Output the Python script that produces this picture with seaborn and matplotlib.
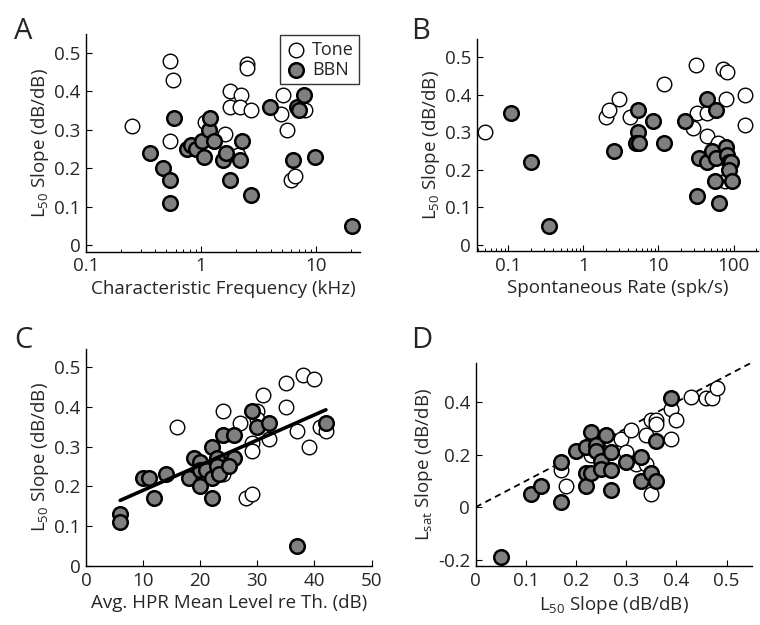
import matplotlib
matplotlib.use('Agg')
import matplotlib.pyplot as plt
import seaborn as sns
import numpy as np
from matplotlib.ticker import NullFormatter, LogLocator

# ---- data ----
# Panel A: characteristic frequency (kHz) vs L50 slope
a_tone_cf = [0.54, 0.575, 0.25, 0.54, 1.07, 1.61, 2.5, 2.5, 1.77, 2.23, 1.77, 2.16,
             2.69, 2.1, 5.13, 4.9, 5.6, 7.95, 6.0, 6.5]
a_tone_slope = [0.48, 0.43, 0.31, 0.27, 0.32, 0.29, 0.47, 0.46, 0.40, 0.39, 0.36, 0.36,
                0.35, 0.235, 0.39, 0.34, 0.30, 0.35, 0.17, 0.18]
a_bbn_cf = [0.58, 0.36, 0.47, 0.54, 0.54, 0.75, 0.82, 0.9, 1.01, 1.05, 1.17, 1.2, 1.3,
            1.54, 2.27, 1.63, 2.16, 1.78, 2.69, 3.94, 6.8, 7.07, 7.8, 6.3, 9.75, 20.5]
a_bbn_slope = [0.33, 0.24, 0.20, 0.17, 0.11, 0.25, 0.26, 0.25, 0.27, 0.23, 0.30, 0.33, 0.27,
               0.22, 0.27, 0.24, 0.22, 0.17, 0.13, 0.36, 0.36, 0.35, 0.39, 0.22, 0.23, 0.05]

# Panel B: spontaneous rate (spk/s) vs L50 slope
b_tone_sr = [0.05, 1.99, 2.2, 2.97, 4.2, 11.9, 31.8, 28.8, 33, 44, 44, 72, 81, 79,
             141, 141, 62, 77, 82]
b_tone_slope = [0.30, 0.34, 0.36, 0.39, 0.34, 0.43, 0.48, 0.31, 0.35, 0.35, 0.29, 0.47,
                0.46, 0.39, 0.40, 0.32, 0.27, 0.17, 0.24]
b_bbn_sr = [0.11, 0.2, 0.35, 5.3, 5.4, 5.0, 5.5, 2.6, 8.4, 12, 22.6, 44, 58.5, 34.6, 45,
            51, 58.5, 79, 81, 88, 92, 88, 57, 95, 33, 64]
b_bbn_slope = [0.35, 0.22, 0.05, 0.36, 0.30, 0.27, 0.27, 0.25, 0.33, 0.27, 0.33, 0.39,
               0.36, 0.23, 0.22, 0.25, 0.23, 0.26, 0.24, 0.22, 0.22, 0.20, 0.17, 0.17,
               0.13, 0.11]

# Panel C: avg. HPR mean level re threshold (dB) vs L50 slope
c_tone_lvl = [16, 24, 24, 27, 30, 30, 31, 35, 38, 40, 35, 37, 39, 41, 42, 32, 29, 29,
              28, 29, 20]
c_tone_slope = [0.35, 0.39, 0.23, 0.36, 0.39, 0.37, 0.43, 0.46, 0.48, 0.47, 0.40, 0.34,
                0.30, 0.35, 0.34, 0.32, 0.31, 0.29, 0.17, 0.18, 0.24]
c_bbn_lvl = [6, 6, 10, 11, 12, 14, 18, 19, 20, 20, 20, 21, 22, 22, 22, 23, 23, 23.3,
             24, 26, 26, 25, 29, 30, 32, 42, 37]
c_bbn_slope = [0.13, 0.11, 0.22, 0.22, 0.17, 0.23, 0.22, 0.27, 0.26, 0.24, 0.20, 0.24,
               0.30, 0.22, 0.17, 0.27, 0.25, 0.23, 0.33, 0.33, 0.27, 0.25, 0.39, 0.35,
               0.36, 0.36, 0.05]
c_fit_lvl = [6, 42]
c_fit_slope = [0.165, 0.392]

# Panel D: L50 slope vs Lsat slope
d_tone_l50 = [0.17, 0.18, 0.23, 0.27, 0.29, 0.31, 0.30, 0.32, 0.34, 0.34, 0.35, 0.36,
              0.36, 0.35, 0.39, 0.40, 0.39, 0.43, 0.46, 0.47, 0.48]
d_tone_lsat = [0.14, 0.08, 0.20, 0.25, 0.26, 0.295, 0.21, 0.165, 0.275, 0.165, 0.33, 0.33,
               0.315, 0.05, 0.375, 0.33, 0.26, 0.42, 0.415, 0.415, 0.455]
d_bbn_l50 = [0.05, 0.11, 0.13, 0.17, 0.17, 0.20, 0.22, 0.22, 0.22, 0.23, 0.23, 0.24,
             0.24, 0.25, 0.25, 0.26, 0.27, 0.27, 0.27, 0.30, 0.33, 0.33, 0.35, 0.36,
             0.36, 0.39]
d_bbn_lsat = [-0.19, 0.05, 0.08, 0.02, 0.17, 0.215, 0.23, 0.13, 0.08, 0.13, 0.285, 0.235,
              0.215, 0.175, 0.145, 0.275, 0.21, 0.14, 0.065, 0.17, 0.19, 0.10, 0.13,
              0.10, 0.25, 0.415]
d_unity = [0, 0.55]

sns.set_theme(style="white")
plt.rcParams['font.family'] = ['Open Sans', 'DejaVu Sans']
plt.rcParams['mathtext.default'] = 'regular'

fig = plt.figure(figsize=(7.6, 6.25), dpi=100)
axA = fig.add_axes([0.113, 0.597, 0.361, 0.348])
axB = fig.add_axes([0.627, 0.598, 0.371, 0.339])
axC = fig.add_axes([0.113, 0.094, 0.376, 0.348])
axD = fig.add_axes([0.626, 0.094, 0.363, 0.325])

tone_kw = dict(color='white', edgecolor='black', linewidth=1.0, s=110, zorder=3)
bbn_kw = dict(color='#808080', edgecolor='black', linewidth=1.8, s=110, zorder=4)

def panel(ax, xt, yt, xb, yb, label=True):
    sns.scatterplot(x=xt, y=yt, ax=ax, label='Tone' if label else None, **tone_kw)
    sns.scatterplot(x=xb, y=yb, ax=ax, label='BBN' if label else None, **bbn_kw)

# A
axA.set_xscale('log')
panel(axA, a_tone_cf, a_tone_slope, a_bbn_cf, a_bbn_slope)
axA.set_xlim(0.1, 24)
axA.set_xticks([0.1, 1, 10])
axA.set_xticklabels(['0.1', '1', '10'])
axA.set_xlabel('Characteristic Frequency (kHz)')
leg = axA.legend(loc='upper right', frameon=True, fancybox=False, fontsize=13,
                 borderpad=0.3, handletextpad=0.3, labelspacing=0.1,
                 handlelength=1.2, borderaxespad=0.05)
leg.get_frame().set_edgecolor('black')
leg.get_frame().set_linewidth(1.0)

# B
axB.set_xscale('log')
panel(axB, b_tone_sr, b_tone_slope, b_bbn_sr, b_bbn_slope, label=False)
axB.set_xlim(0.038, 215)
axB.set_xticks([0.1, 1, 10, 100])
axB.set_xticklabels(['0.1', '1', '10', '100'])
axB.set_xlabel('Spontaneous Rate (spk/s)')

for ax in (axA, axB):
    ax.set_ylim(-0.018, 0.548)
    ax.xaxis.set_minor_locator(LogLocator(base=10, subs=np.arange(2, 10)))
    ax.xaxis.set_minor_formatter(NullFormatter())

# C
panel(axC, c_tone_lvl, c_tone_slope, c_bbn_lvl, c_bbn_slope, label=False)
sns.lineplot(x=c_fit_lvl, y=c_fit_slope, ax=axC, color='black', linewidth=2.6, zorder=5)
axC.set_xlim(0, 50)
axC.set_ylim(0, 0.545)
axC.set_xticks([0, 10, 20, 30, 40, 50])
axC.set_xlabel('Avg. HPR Mean Level re Th. (dB)')

for ax in (axA, axB, axC):
    ax.set_yticks([0, 0.1, 0.2, 0.3, 0.4, 0.5])
    ax.set_yticklabels(['0', '0.1', '0.2', '0.3', '0.4', '0.5'])
    ax.set_ylabel('L$_{50}$ Slope (dB/dB)')

# D
sns.lineplot(x=d_unity, y=d_unity, ax=axD, color='black', linewidth=1.3,
             linestyle=(0, (3.5, 2.5)), zorder=2)
panel(axD, d_tone_l50, d_tone_lsat, d_bbn_l50, d_bbn_lsat, label=False)
axD.set_xlim(0, 0.55)
axD.set_ylim(-0.225, 0.548)
axD.set_xticks([0, 0.1, 0.2, 0.3, 0.4, 0.5])
axD.set_xticklabels(['0', '0.1', '0.2', '0.3', '0.4', '0.5'])
axD.set_yticks([-0.2, 0, 0.2, 0.4])
axD.set_yticklabels(['-0.2', '0', '0.2', '0.4'])
axD.set_xlabel('L$_{50}$ Slope (dB/dB)')
axD.set_ylabel('L$_{sat}$ Slope (dB/dB)')

for ax in (axA, axB, axC, axD):
    sns.despine(ax=ax)
    for side in ('left', 'bottom'):
        ax.spines[side].set_color('black')
        ax.spines[side].set_linewidth(1.0)
    ax.tick_params(axis='both', which='major', direction='in', length=4,
                   width=0.8, color='black', labelsize=13.5, pad=4,
                   left=True, bottom=True)
    ax.tick_params(axis='both', which='minor', direction='in', length=2.5,
                   width=0.7, color='black', left=False, bottom=True)
    ax.xaxis.label.set_size(13.5)
    ax.yaxis.label.set_size(13.5)
    ax.yaxis.labelpad = 2
    ax.xaxis.labelpad = 3
    if ax is not axA and ax.get_legend() is not None:
        ax.get_legend().remove()

for ax in (axC, axD):
    ax.tick_params(axis='x', which='minor', bottom=False)

# panel letters
for txt, x, y in (('A', 0.03, 0.95), ('B', 0.553, 0.95), ('C', 0.031, 0.455), ('D', 0.555, 0.455)):
    fig.text(x, y, txt, fontsize=21, ha='center', va='center')

plt.savefig('out.png', dpi=100)
